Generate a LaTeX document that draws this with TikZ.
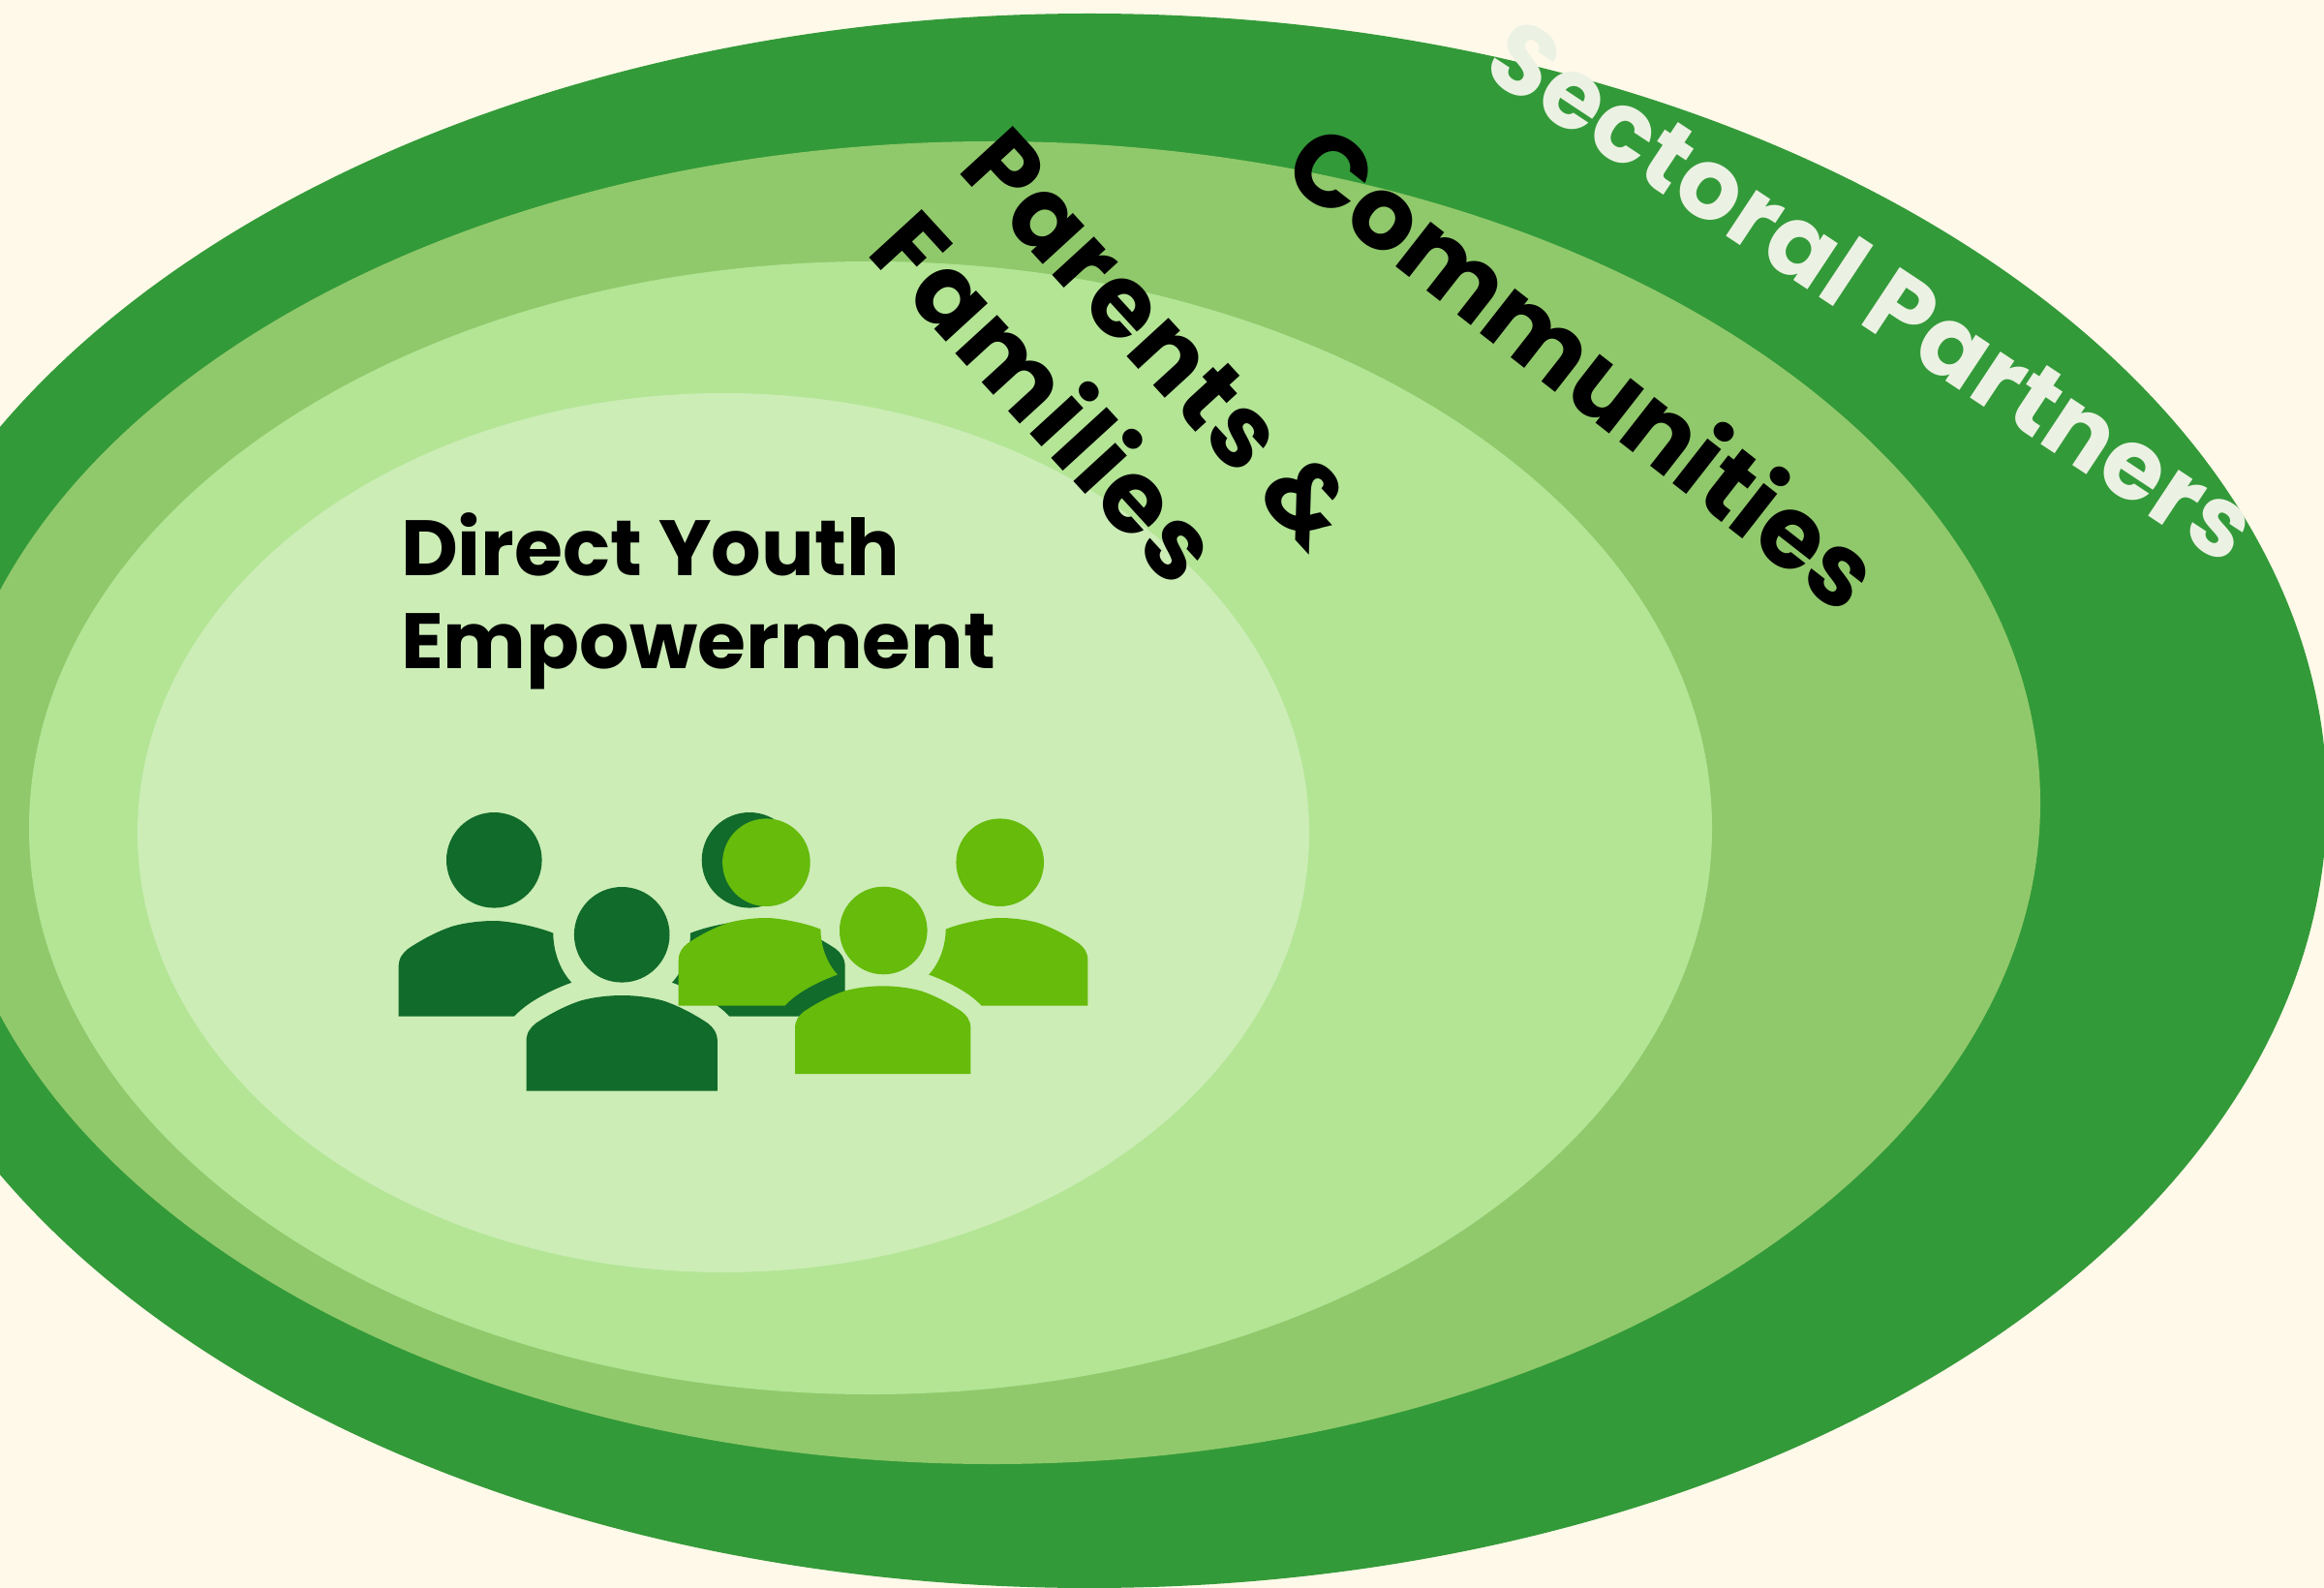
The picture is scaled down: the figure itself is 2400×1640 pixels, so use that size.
\documentclass[tikz,border=0pt]{standalone}
\usepackage{fontspec}
\setmainfont{Poppins}[BoldFont=Poppins Bold]
\definecolor{cream}{HTML}{FFF9E9}
\definecolor{ringa}{HTML}{339A39}
\definecolor{ringb}{HTML}{90C96B}
\definecolor{ringc}{HTML}{B3E595}
\definecolor{ringd}{HTML}{CCEDB6}
\definecolor{darkp}{HTML}{116B2A}
\definecolor{lightp}{HTML}{66BB0B}
\definecolor{palet}{HTML}{EBF2E3}
\newcommand{\pxfont}[3]{\fontsize{\dimexpr #1pt*2845/10000\relax}{\dimexpr #2pt*2845/10000\relax}\selectfont\bfseries\addfontfeature{LetterSpace=#3}}
\newcommand{\frontbody}{(-98.7,98.7) -- (-98.7,48) .. controls (-98.7,38) and (-94,33) .. (-88.7,28.7) .. controls (-78,21.5) and (-60,11) .. (-42,5.3) .. controls (-28,1.5) and (-12,0) .. (0,0) .. controls (12,0) and (28,1.5) .. (42,5.3) .. controls (60,11) and (78,21.5) .. (88.7,28.7) .. controls (94,33) and (98.7,38) .. (98.7,48) -- (98.7,98.7) -- cycle}
\newcommand{\backbody}{(-98.7,98.7) -- (20.7,98.7) .. controls (35,83) and (60,71) .. (80,63.7) .. controls (67.6,50.6) and (61,30.7) .. (61,12.7) .. controls (45,6) and (15,0) .. (0,0) .. controls (-12,0) and (-28,1.5) .. (-42,5.3) .. controls (-60,11) and (-78,21.5) .. (-88.7,28.7) .. controls (-94,33) and (-98.7,38) .. (-98.7,48) -- cycle}
\tikzset{
  label text/.style={inner sep=0pt,outer sep=0pt,align=left,text=black},
  partner text/.style={inner sep=0pt,outer sep=0pt,text=palet},
}
\begin{document}
\begin{tikzpicture}[x=0.01cm,y=-0.01cm]
\path[use as bounding box] (0,0) rectangle (2400,1640);
\clip (0,0) rectangle (2400,1640);
\fill[cream] (0,0) rectangle (2400,1640);
\fill[ringa] (1125,827) ellipse [x radius=1278,y radius=813];
\fill[ringb] (1025,829) ellipse [x radius=1082,y radius=683];
\fill[ringc] (899,855) ellipse [x radius=869,y radius=585];
\fill[ringd] (747,860) ellipse [x radius=605,y radius=454];
% dark icon
\begin{scope}[fill=darkp]
\fill (510.3,888.3) circle [radius=49.3];
\fill (774,888.3) circle [radius=49.3];
\fill (642.2,965.3) circle [radius=49.3];
\begin{scope}[shift={(510.3,951)}]\fill \backbody;\end{scope}
\begin{scope}[shift={(774,951)},xscale=-1]\fill \backbody;\end{scope}
\begin{scope}[shift={(642.2,1028)}]\fill \frontbody;\end{scope}
\end{scope}
% light icon
\begin{scope}[fill=lightp]
\fill (791.4,890.7) circle [radius=45.3];
\fill (1032.7,890.7) circle [radius=45.3];
\fill (912.3,961) circle [radius=45.3];
\begin{scope}[shift={(791.4,948)},scale=0.919]\fill \backbody;\end{scope}
\begin{scope}[shift={(1032.7,948)},xscale=-0.919,yscale=0.919]\fill \backbody;\end{scope}
\begin{scope}[shift={(911.7,1018.3)},scale=0.919]\fill \frontbody;\end{scope}
\end{scope}
% labels
\node[label text,anchor=base west,font=\pxfont{81}{95}{0}] (direct) at (414,690) {Direct Youth\\Empowerment};
\node[label text,rotate=-47.5,anchor=base west,font=\pxfont{105}{128}{2}] (parents) at (893,262) {Parents \&\\Families};
\node[label text,rotate=-38,anchor=center,font=\pxfont{105}{120}{0}] (comm) at (1637,376) {Communities};
\node[partner text,rotate=-33.5,anchor=center,font=\pxfont{102}{110}{1}] (sect) at (1934,299) {Sectoral Partners};
\end{tikzpicture}
\end{document}
